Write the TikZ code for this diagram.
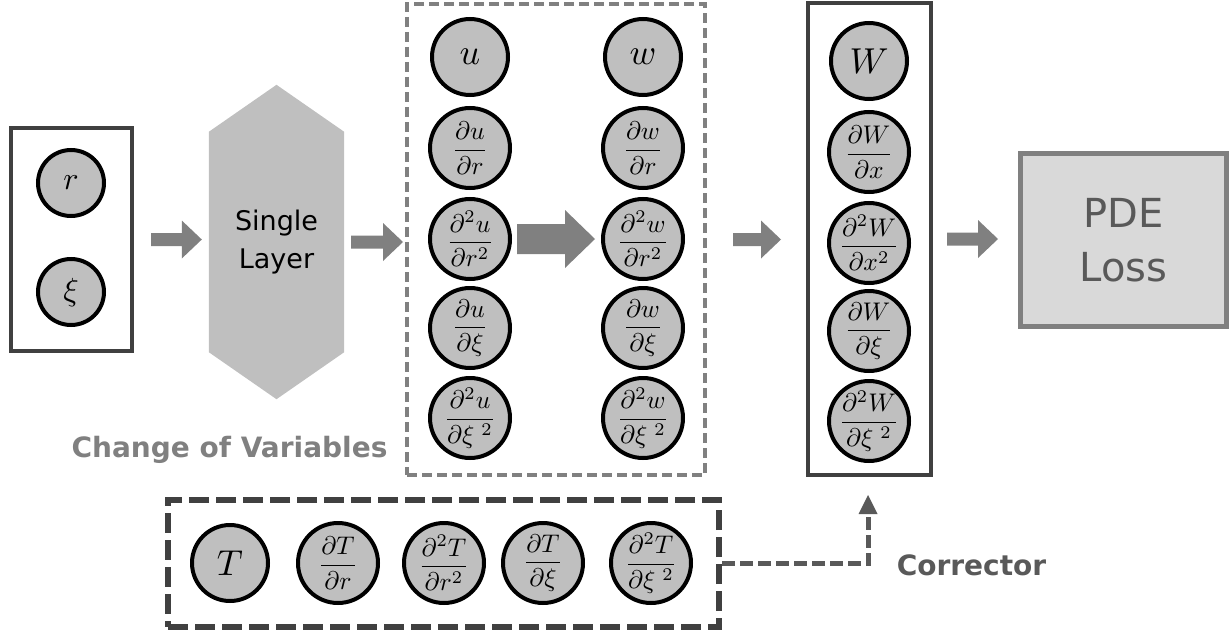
\documentclass[tikz,border=0pt]{standalone}
\usepackage{amsmath}
\usepackage{graphicx}
\usepackage{fontspec}
\newfontfamily\dejavu{DejaVu Sans}
\usetikzlibrary{arrows.meta,calc,backgrounds}
\definecolor{circfill}{HTML}{BFBFBF}
\definecolor{arrowgray}{HTML}{808080}
\definecolor{darkline}{HTML}{404040}
\definecolor{pdefill}{HTML}{D9D9D9}
\definecolor{pdetext}{HTML}{595959}
\newcommand\mvar[1]{\scalebox{3.6}{$#1$}}
\newcommand\svar[1]{\scalebox{3.2}{$#1$}}
\newcommand\mfr[2]{\scalebox{2.55}{$\dfrac{#1}{#2}$}}
\tikzset{
  var/.style={circle,draw=black,line width=4pt,fill=circfill,inner sep=0pt,minimum size=76pt},
  smallvar/.style={var,minimum size=66pt},
  dvar/.style={var,minimum size=80pt,inner sep=-8pt},
  solidbox/.style={draw=darkline,line width=4pt,inner sep=0pt},
  fatarrow/.style n args={3}{to path={let \p1=(\tikztostart), \p2=(\tikztotarget) in
    (\x1,\y1+#1pt) -- (\x2-#3pt,\y1+#1pt) -- (\x2-#3pt,\y1+#2pt) -- (\x2,\y1)
    -- (\x2-#3pt,\y1-#2pt) -- (\x2-#3pt,\y1-#1pt) -- (\x1,\y1-#1pt) -- cycle}},
  graylabel/.style={font=\dejavu\bfseries\fontsize{28}{32}\selectfont},
}
\begin{document}
\begin{tikzpicture}[x=1pt,y=-1pt]
\useasboundingbox (0,0) rectangle (1231,634);

% input box
\node[solidbox,minimum width=121pt,minimum height=223pt] (box1) at (71.5,239.5) {};
\node[smallvar] (r) at (71,183) {\svar{r}};
\node[smallvar] (xi) at (71,292) {\svar{\xi}};

% single layer hexagon
\node[minimum width=135pt,minimum height=314pt,inner sep=0pt,align=center,
      font=\dejavu\fontsize{27}{38}\selectfont] (hex) at (276.5,242) {Single\\Layer};
\begin{scope}[on background layer]
\fill[circfill] (hex.north) -- ([yshift=-47pt]hex.north east) -- ([yshift=47pt]hex.south east)
  -- (hex.south) -- ([yshift=47pt]hex.south west) -- ([yshift=-47pt]hex.north west) -- cycle;
\end{scope}

% dashed box with u and w
\node[draw=arrowgray,line width=4pt,dash pattern=on 10pt off 5pt,inner sep=0pt,
      minimum width=298pt,minimum height=471pt] (box2) at (556,239.5) {};
\node[var] (u) at (470,57) {\mvar{u}};
\node[dvar] (ur) at (470,148) {\mfr{\partial u}{\partial r}};
\node[dvar] (urr) at (470,239) {\mfr{\partial^2 u}{\partial r^2}};
\node[dvar] (ux) at (470,328) {\mfr{\partial u}{\partial \xi}};
\node[dvar] (uxx) at (470,418) {\mfr{\partial^2 u}{\partial \xi\;^2}};
\node[var] (w) at (643,57) {\mvar{w}};
\node[dvar] (wr) at (643,148) {\mfr{\partial w}{\partial r}};
\node[dvar] (wrr) at (643,239) {\mfr{\partial^2 w}{\partial r^2}};
\node[dvar] (wx) at (643,328) {\mfr{\partial w}{\partial \xi}};
\node[dvar] (wxx) at (643,418) {\mfr{\partial^2 w}{\partial \xi\;^2}};

% W box
\node[solidbox,minimum width=123pt,minimum height=472pt] (box3) at (869.5,239) {};
\node[var] (W) at (869,61) {\mvar{W}};
\node[dvar] (Wx) at (869,152) {\mfr{\partial W}{\partial x}};
\node[dvar] (Wxx) at (869,243) {\mfr{\partial^2 W}{\partial x^2}};
\node[dvar] (Wk) at (869,331) {\mfr{\partial W}{\partial \xi}};
\node[dvar] (Wkk) at (869,421) {\mfr{\partial^2 W}{\partial \xi\;^2}};

% PDE loss
\node[draw=arrowgray,fill=pdefill,line width=5pt,minimum width=206pt,minimum height=173pt,
      inner sep=0pt,align=center,text=pdetext,font=\dejavu\fontsize{40}{54}\selectfont]
      (pde) at (1123.5,240) {PDE\\Loss};

% T box
\node[draw=darkline,line width=6pt,dash pattern=on 20pt off 7pt,inner sep=0pt,
      minimum width=551pt,minimum height=127pt] (box4) at (443.5,563.5) {};
\node[var] (T) at (230,563) {\mvar{T}};
\node[dvar] (Tr) at (338,563) {\mfr{\partial T}{\partial r}};
\node[dvar] (Trr) at (444,563) {\mfr{\partial^2 T}{\partial r^2}};
\node[dvar] (Tx) at (543,563) {\mfr{\partial T}{\partial \xi}};
\node[dvar] (Txx) at (651,563) {\mfr{\partial^2 T}{\partial \xi\;^2}};

% labels
\node[graylabel,text=arrowgray] (cov) at (229.5,450) {Change of Variables};
\node[graylabel,text=pdetext] (corr) at (971.5,565) {Corrector};

% fat arrows
\fill[arrowgray] ([xshift=17pt]box1.east) to[fatarrow={6.5}{19}{20}] ([xshift=-7pt]hex.west);
\fill[arrowgray] ([xshift=7pt]hex.east) to[fatarrow={6.5}{19}{20}] ([xshift=-2pt]box2.west);
\fill[arrowgray] ([xshift=5pt]urr.east) to[fatarrow={15}{29}{30}] ([xshift=-6pt]wrr.west);
\fill[arrowgray] ([xshift=26pt]box2.east) to[fatarrow={6.5}{19}{20}] ([xshift=-25pt]box3.west);
\fill[arrowgray] ([xshift=14pt]box3.east) to[fatarrow={6.5}{19}{20}] ([xshift=-20pt]pde.west);

% corrector connector
\draw[pdetext,line width=5pt,dash pattern=on 13pt off 5pt,
      -{Triangle[length=19pt,width=19pt,line width=0pt]}]
  (box4.east) -| ([xshift=-1.5pt,yshift=-18pt]box3.south);
\end{tikzpicture}
\end{document}
